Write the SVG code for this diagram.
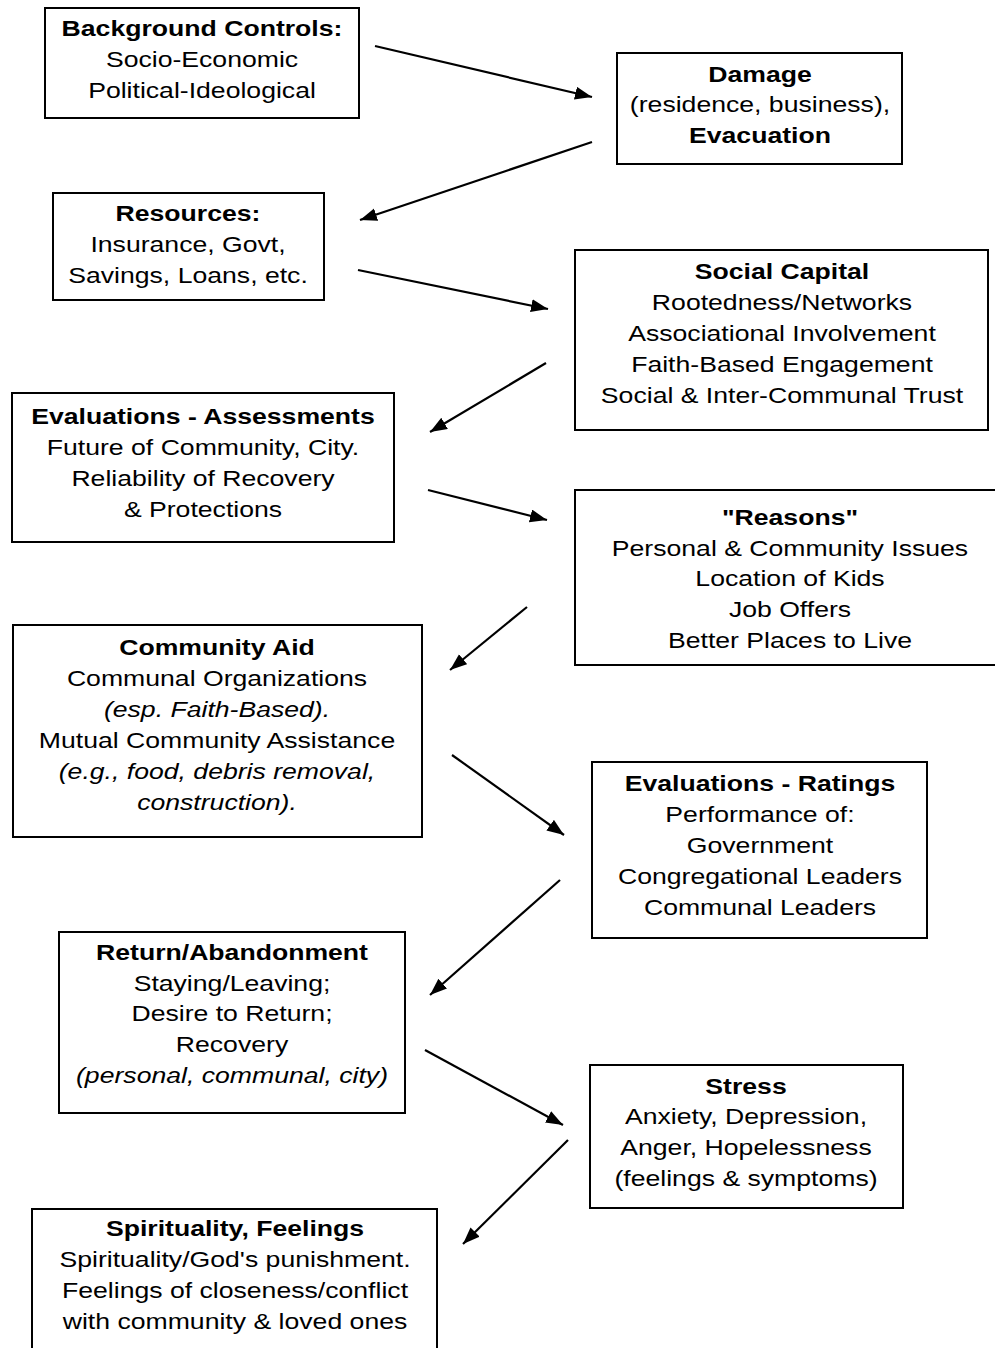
<svg xmlns="http://www.w3.org/2000/svg" width="995" height="1348" viewBox="0 0 995 1348">
<style>
.box{fill:#fff;stroke:#000;stroke-width:2}
.t{font-family:"Liberation Sans",Arial,sans-serif;font-size:22px;text-anchor:middle;fill:#000}
.b{font-weight:bold}
.i{font-style:italic}
.c{stroke:#000;stroke-width:2.2;fill:none;marker-end:url(#ah)}
</style>
<defs>
<marker id="ah" markerUnits="userSpaceOnUse" markerWidth="18" markerHeight="14" refX="17" refY="6.5" orient="auto">
<path d="M0,0 L17,6.5 L0,13 z" fill="#000"/>
</marker>
</defs>
<rect width="995" height="1348" fill="#fff"/>
<g id="connectors">
<line class="c" x1="375" y1="46" x2="592" y2="97"/>
<line class="c" x1="592" y1="142" x2="360" y2="220"/>
<line class="c" x1="358" y1="270" x2="548" y2="309"/>
<line class="c" x1="546" y1="363" x2="430" y2="432"/>
<line class="c" x1="428" y1="490" x2="547" y2="520"/>
<line class="c" x1="527" y1="607" x2="450" y2="670"/>
<line class="c" x1="452" y1="755" x2="564" y2="835"/>
<line class="c" x1="560" y1="880" x2="430" y2="995"/>
<line class="c" x1="425" y1="1050" x2="563" y2="1125"/>
<line class="c" x1="568" y1="1140" x2="463" y2="1244"/>
</g>
<g id="background">
<rect class="box" x="45" y="8" width="314" height="110"/>
<text class="t" transform="translate(202 0) scale(1.21 1)"><tspan class="b" x="0" y="36">Background Controls:</tspan><tspan x="0" y="67">Socio-Economic</tspan><tspan x="0" y="98">Political-Ideological</tspan></text>
</g>
<g id="damage">
<rect class="box" x="617" y="53" width="285" height="111"/>
<text class="t" transform="translate(760 0) scale(1.21 1)"><tspan class="b" x="0" y="82">Damage</tspan><tspan x="0" y="112">(residence, business),</tspan><tspan class="b" x="0" y="143">Evacuation</tspan></text>
</g>
<g id="resources">
<rect class="box" x="53" y="193" width="271" height="107"/>
<text class="t" transform="translate(188 0) scale(1.21 1)"><tspan class="b" x="0" y="221">Resources:</tspan><tspan x="0" y="252">Insurance, Govt,</tspan><tspan x="0" y="283">Savings, Loans, etc.</tspan></text>
</g>
<g id="social-capital">
<rect class="box" x="575" y="250" width="413" height="180"/>
<text class="t" transform="translate(782 0) scale(1.21 1)"><tspan class="b" x="0" y="279">Social Capital</tspan><tspan x="0" y="310">Rootedness/Networks</tspan><tspan x="0" y="341">Associational Involvement</tspan><tspan x="0" y="372">Faith-Based Engagement</tspan><tspan x="0" y="403">Social &amp; Inter-Communal Trust</tspan></text>
</g>
<g id="eval-assessments">
<rect class="box" x="12" y="393" width="382" height="149"/>
<text class="t" transform="translate(203 0) scale(1.21 1)"><tspan class="b" x="0" y="424">Evaluations - Assessments</tspan><tspan x="0" y="455">Future of Community, City.</tspan><tspan x="0" y="486">Reliability of Recovery</tspan><tspan x="0" y="517">&amp; Protections</tspan></text>
</g>
<g id="reasons">
<rect class="box" x="575" y="490" width="440" height="175"/>
<text class="t" transform="translate(790 0) scale(1.21 1)"><tspan class="b" x="0" y="525">"Reasons"</tspan><tspan x="0" y="556">Personal &amp; Community Issues</tspan><tspan x="0" y="586">Location of Kids</tspan><tspan x="0" y="617">Job Offers</tspan><tspan x="0" y="648">Better Places to Live</tspan></text>
</g>
<g id="community-aid">
<rect class="box" x="13" y="625" width="409" height="212"/>
<text class="t" transform="translate(217 0) scale(1.21 1)"><tspan class="b" x="0" y="655">Community Aid</tspan><tspan x="0" y="686">Communal Organizations</tspan><tspan class="i" x="0" y="717">(esp. Faith-Based).</tspan><tspan x="0" y="748">Mutual Community Assistance</tspan><tspan class="i" x="0" y="779">(e.g., food, debris removal,</tspan><tspan class="i" x="0" y="810">construction).</tspan></text>
</g>
<g id="eval-ratings">
<rect class="box" x="592" y="762" width="335" height="176"/>
<text class="t" transform="translate(760 0) scale(1.21 1)"><tspan class="b" x="0" y="791">Evaluations - Ratings</tspan><tspan x="0" y="822">Performance of:</tspan><tspan x="0" y="853">Government</tspan><tspan x="0" y="884">Congregational Leaders</tspan><tspan x="0" y="915">Communal Leaders</tspan></text>
</g>
<g id="return">
<rect class="box" x="59" y="932" width="346" height="181"/>
<text class="t" transform="translate(232 0) scale(1.21 1)"><tspan class="b" x="0" y="960">Return/Abandonment</tspan><tspan x="0" y="991">Staying/Leaving;</tspan><tspan x="0" y="1021">Desire to Return;</tspan><tspan x="0" y="1052">Recovery</tspan><tspan class="i" x="0" y="1083">(personal, communal, city)</tspan></text>
</g>
<g id="stress">
<rect class="box" x="590" y="1065" width="313" height="143"/>
<text class="t" transform="translate(746 0) scale(1.21 1)"><tspan class="b" x="0" y="1094">Stress</tspan><tspan x="0" y="1124">Anxiety, Depression,</tspan><tspan x="0" y="1155">Anger, Hopelessness</tspan><tspan x="0" y="1186">(feelings &amp; symptoms)</tspan></text>
</g>
<g id="spirituality">
<rect class="box" x="32" y="1209" width="405" height="160"/>
<text class="t" transform="translate(235 0) scale(1.21 1)"><tspan class="b" x="0" y="1236">Spirituality, Feelings</tspan><tspan x="0" y="1267">Spirituality/God's punishment.</tspan><tspan x="0" y="1298">Feelings of closeness/conflict</tspan><tspan x="0" y="1329">with community &amp; loved ones</tspan></text>
</g>
</svg>
